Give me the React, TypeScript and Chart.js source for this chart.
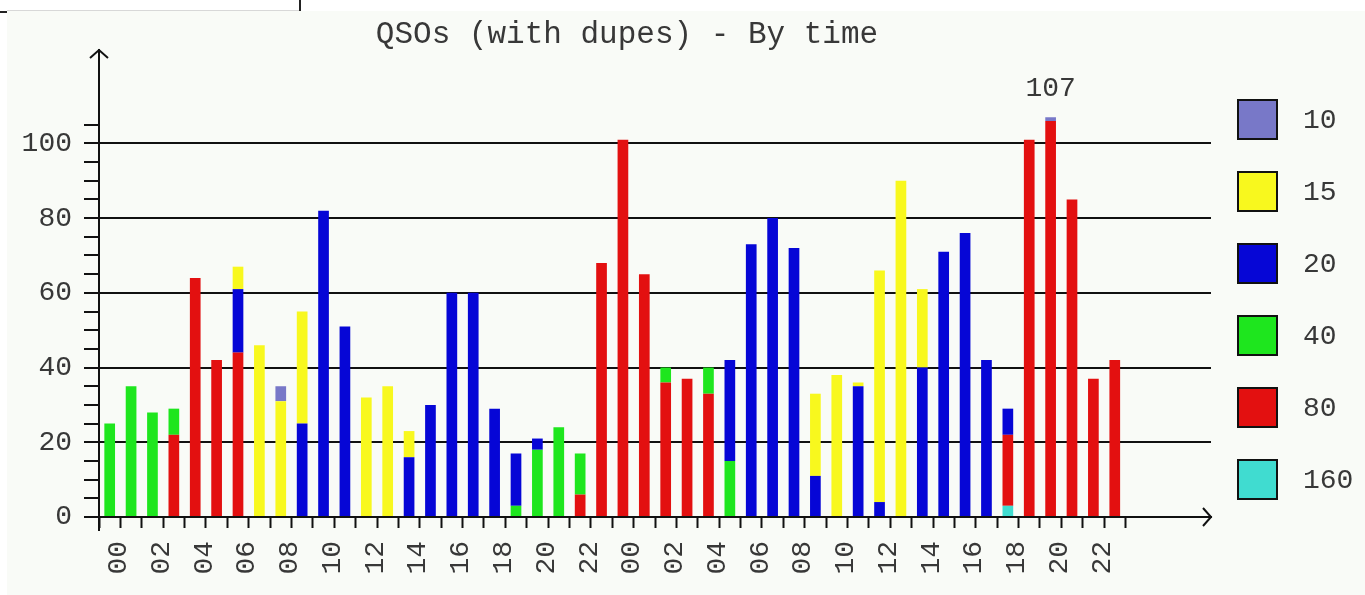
import React, { useEffect, useRef } from 'react';
import { Chart, registerables } from 'chart.js';

Chart.register(...registerables);

// ---- data ----
const hourLabels = [
  '00', '01', '02', '03', '04', '05', '06', '07', '08', '09', '10', '11',
  '12', '13', '14', '15', '16', '17', '18', '19', '20', '21', '22', '23',
  '00', '01', '02', '03', '04', '05', '06', '07', '08', '09', '10', '11',
  '12', '13', '14', '15', '16', '17', '18', '19', '20', '21', '22', '23',
];
const spareSlots = ['', '', '', ''];

const bandNames = ['160', '80', '40', '20', '15', '10'];
const bandColors = ['#40dcd0', '#e31010', '#1ee61e', '#0606d6', '#f8f81e', '#7878c8'];

const band160 = [
  0, 0, 0, 0, 0, 0, 0, 0, 0, 0, 0, 0, 0, 0, 0, 0, 0, 0, 0, 0, 0, 0, 0, 0,
  0, 0, 0, 0, 0, 0, 0, 0, 0, 0, 0, 0, 0, 0, 0, 0, 0, 0, 3, 0, 0, 0, 0, 0,
];
const band80 = [
  0, 0, 0, 22, 64, 42, 44, 0, 0, 0, 0, 0, 0, 0, 0, 0, 0, 0, 0, 0, 0, 0, 6, 68,
  101, 65, 36, 37, 33, 0, 0, 0, 0, 0, 0, 0, 0, 0, 0, 0, 0, 0, 19, 101, 106, 85, 37, 42,
];
const band40 = [
  25, 35, 28, 7, 0, 0, 0, 0, 0, 0, 0, 0, 0, 0, 0, 0, 0, 0, 0, 3, 18, 24, 11, 0,
  0, 0, 4, 0, 7, 15, 0, 0, 0, 0, 0, 0, 0, 0, 0, 0, 0, 0, 0, 0, 0, 0, 0, 0,
];
const band20 = [
  0, 0, 0, 0, 0, 0, 17, 0, 0, 25, 82, 51, 0, 0, 16, 30, 60, 60, 29, 14, 3, 0, 0, 0,
  0, 0, 0, 0, 0, 27, 73, 80, 72, 11, 0, 35, 4, 0, 40, 71, 76, 42, 7, 0, 0, 0, 0, 0,
];
const band15 = [
  0, 0, 0, 0, 0, 0, 6, 46, 31, 30, 0, 0, 32, 35, 7, 0, 0, 0, 0, 0, 0, 0, 0, 0,
  0, 0, 0, 0, 0, 0, 0, 0, 0, 22, 38, 1, 62, 90, 21, 0, 0, 0, 0, 0, 0, 0, 0, 0,
];
const band10 = [
  0, 0, 0, 0, 0, 0, 0, 0, 4, 0, 0, 0, 0, 0, 0, 0, 0, 0, 0, 0, 0, 0, 0, 0,
  0, 0, 0, 0, 0, 0, 0, 0, 0, 0, 0, 0, 0, 0, 0, 0, 0, 0, 0, 0, 1, 0, 0, 0,
];
const bandValues = [band160, band80, band40, band20, band15, band10];

const titleText = 'QSOs (with dupes) - By time';
const yMax = 125;
const yStep = 5;
const yMajorStep = 20;
const yMajorMax = 100;
const yTickMax = 105;

const MONO = "'Liberation Mono', 'DejaVu Sans Mono', monospace";
const TEXT = '#383838';
const LINE = '#111111';
const CLEAR = 'rgba(0,0,0,0)';

const decorPlugin = {
  id: 'decor',
  afterDraw(chart: any) {
    const { ctx, chartArea } = chart;
    const x = chart.scales.x;
    const y = chart.scales.y;
    ctx.save();
    // axis arrows
    ctx.strokeStyle = LINE;
    ctx.lineWidth = 2;
    ctx.beginPath();
    ctx.moveTo(chartArea.left - 9, chartArea.top + 8);
    ctx.lineTo(chartArea.left, chartArea.top);
    ctx.lineTo(chartArea.left + 9, chartArea.top + 8);
    ctx.stroke();
    ctx.beginPath();
    ctx.moveTo(chartArea.right - 8, chartArea.bottom - 9);
    ctx.lineTo(chartArea.right, chartArea.bottom);
    ctx.lineTo(chartArea.right - 8, chartArea.bottom + 9);
    ctx.stroke();
    // y axis stub below the x axis
    ctx.beginPath();
    ctx.moveTo(chartArea.left, chartArea.bottom);
    ctx.lineTo(chartArea.left, chartArea.bottom + 14);
    ctx.stroke();

    // title
    ctx.fillStyle = TEXT;
    ctx.font = `31px ${MONO}`;
    ctx.textAlign = 'center';
    ctx.textBaseline = 'alphabetic';
    ctx.fillText(titleText, 627, 43);

    // max total label
    let maxIdx = 0;
    let maxVal = -1;
    for (let i = 0; i < hourLabels.length; i++) {
      let s = 0;
      for (const arr of bandValues) s += arr[i];
      if (s > maxVal) {
        maxVal = s;
        maxIdx = i;
      }
    }
    ctx.font = `28px ${MONO}`;
    ctx.fillText(String(maxVal), x.getPixelForValue(maxIdx), y.getPixelForValue(maxVal) - 21);

    // legend (top item = top of stack)
    const ds = chart.data.datasets;
    const boxX = chartArea.right + 27;
    ctx.textAlign = 'left';
    ctx.textBaseline = 'middle';
    for (let k = 0; k < ds.length; k++) {
      const d = ds[ds.length - 1 - k];
      const by = 100 + k * 72;
      ctx.fillStyle = d.backgroundColor;
      ctx.fillRect(boxX, by, 39, 39);
      ctx.strokeStyle = LINE;
      ctx.lineWidth = 2;
      ctx.strokeRect(boxX, by, 39, 39);
      ctx.fillStyle = TEXT;
      ctx.fillText(d.label, boxX + 65, by + 21);
    }
    ctx.restore();
  },
};

export default function App() {
  const canvasRef = useRef<HTMLCanvasElement | null>(null);

  useEffect(() => {
    const canvas = canvasRef.current;
    if (!canvas) return;
    const slotLabels = [...hourLabels, ...spareSlots];
    const chart = new Chart(canvas, {
      type: 'bar',
      data: {
        labels: slotLabels,
        datasets: bandNames.map((name, i) => ({
          label: name,
          data: bandValues[i],
          backgroundColor: bandColors[i],
          borderWidth: 0,
          barPercentage: 0.5,
          categoryPercentage: 1.0,
        })),
      },
      options: {
        responsive: false,
        animation: false,
        events: [],
        layout: { padding: { left: 0, top: 50, right: 154, bottom: 0 } },
        plugins: {
          legend: { display: false },
          title: { display: false },
          tooltip: { enabled: false },
        },
        scales: {
          x: {
            stacked: true,
            offset: true,
            ticks: {
              autoSkip: false,
              maxRotation: 90,
              minRotation: 90,
              padding: 13,
              labelOffset: 9,
              color: TEXT,
              font: { family: MONO, size: 28 },
              callback: (_v: any, idx: number) =>
                idx < hourLabels.length && idx % 2 === 0 ? slotLabels[idx] : '',
            },
            grid: {
              offset: true,
              drawOnChartArea: false,
              tickLength: 11,
              tickWidth: 2,
              color: LINE,
              tickColor: (c: any) =>
                typeof c.index === 'number' && c.index <= hourLabels.length ? LINE : CLEAR,
            },
            border: { display: true, color: LINE, width: 2 },
            afterFit: (s: any) => {
              s.height = 78;
            },
          },
          y: {
            stacked: true,
            min: 0,
            max: yMax,
            ticks: {
              stepSize: yStep,
              autoSkip: false,
              padding: 12,
              color: TEXT,
              font: { family: MONO, size: 28 },
              callback: (v: any) =>
                Number(v) % yMajorStep === 0 && Number(v) <= yMajorMax ? String(v) : '',
            },
            grid: {
              lineWidth: 2,
              tickLength: 15,
              tickWidth: 2,
              color: (c: any) =>
                c.tick && c.tick.value > 0 && c.tick.value <= yMajorMax && c.tick.value % yMajorStep === 0
                  ? LINE
                  : CLEAR,
              tickColor: (c: any) => (c.tick && c.tick.value <= yTickMax ? LINE : CLEAR),
            },
            border: { display: true, color: LINE, width: 2 },
            afterFit: (s: any) => {
              s.width = 99;
            },
          },
        },
      },
      plugins: [decorPlugin],
    } as any);
    return () => chart.destroy();
  }, []);

  return (
    <div style={{ position: 'fixed', left: 0, top: 0, width: 1365, height: 595, background: '#ffffff', overflow: 'hidden' }}>
      <div style={{ position: 'absolute', left: 7, top: 11, right: 0, bottom: 0, background: '#f9fbf7' }} />
      <div style={{ position: 'absolute', left: 7, top: 10, width: 293, height: 1, background: '#d8d8d8' }} />
      <div style={{ position: 'absolute', left: 299, top: 0, width: 2, height: 11, background: '#222' }} />
      <div style={{ position: 'absolute', left: 0, top: 11, width: 7, height: 2, background: '#222' }} />
      <canvas ref={canvasRef} width={1365} height={595} style={{ position: 'absolute', left: 0, top: 0, display: 'block' }} />
    </div>
  );
}
